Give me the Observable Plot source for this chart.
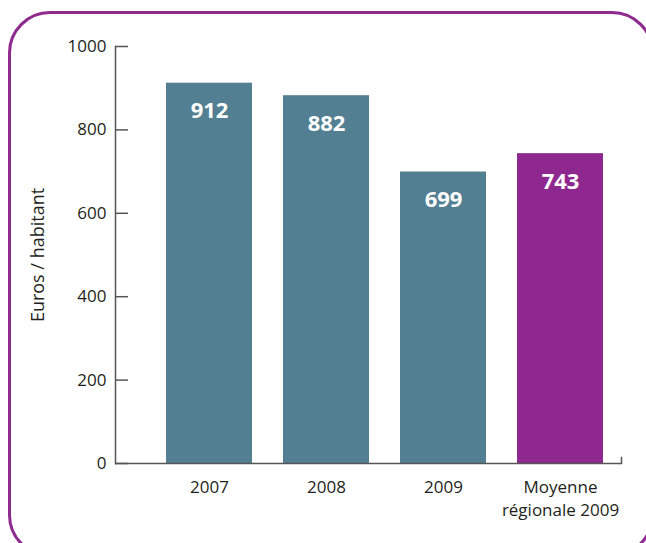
<!DOCTYPE html>
<html>
<head>
<meta charset="utf-8">
<script src="https://cdn.jsdelivr.net/npm/d3@7"></script>
<script src="https://cdn.jsdelivr.net/npm/@observablehq/plot@0.6"></script>
<style>
  html, body { margin: 0; padding: 0; background: #fff; overflow: hidden; }
  #wrap { position: relative; width: 646px; height: 543px; overflow: hidden; }
  #border { position: absolute; left: 8px; top: 11px; width: 640px; height: 540px;
            border: 3px solid #8f2a8f; border-radius: 42px; pointer-events: none; }
</style>
</head>
<body>
<div id="wrap"><div id="border"></div></div>
<script>
const categories = ["2007", "2008", "2009", "Moyenne régionale 2009"];
const values = [912, 882, 699, 743];
const groups = ["commune", "commune", "commune", "région"];
const tickLabels = ["2007", "2008", "2009", "Moyenne\nrégionale 2009"];
const yTicks = [0, 200, 400, 600, 800, 1000];
const yLabel = "Euros / habitant";

const data = categories.map((c, i) => ({category: c, value: values[i], group: groups[i], label: tickLabels[i]}));

const chart = Plot.plot({
  width: 646,
  height: 543,
  marginLeft: 115,
  marginRight: 25,
  marginTop: 46,
  marginBottom: 80,
  style: {fontFamily: "Open Sans, sans-serif", fontSize: "17px", color: "#231f20", background: "transparent"},
  x: {domain: categories, range: [165, 603], paddingInner: 0.267, paddingOuter: 0, label: null},
  y: {domain: [0, 1000], label: null},
  color: {domain: ["commune", "région"], range: ["#527f91", "#8e278e"]},
  marks: [
    Plot.barY(data, {x: "category", y: "value", fill: "group"}),
    Plot.text(data, {x: "category", y: "value", text: d => String(d.value), dy: 28, fill: "white", fontWeight: "bold", fontSize: 22}),
    Plot.axisY({ticks: yTicks, tickSize: 0, tickPadding: 9, label: null, fontSize: 17, tickFormat: d => String(d)}),
    Plot.ruleY(yTicks, {y: d => d, insetRight: 506 - 13, stroke: "#555", strokeWidth: 1.5}),
    Plot.axisX({tickSize: 0, tickPadding: 13, label: null, fontSize: 17, lineHeight: 1.35,
                tickFormat: d => tickLabels[categories.indexOf(d)]}),
    Plot.ruleY([0], {stroke: "#555", strokeWidth: 1.5}),
    Plot.frame({anchor: "left", stroke: "#555", strokeWidth: 1.5}),
    Plot.frame({anchor: "right", stroke: "#555", strokeWidth: 1.5, insetTop: 411}),
    Plot.text([yLabel], {frameAnchor: "left", textAnchor: "middle", text: d => d, rotate: -90, dx: -77, fontSize: 18})
  ]
});
document.getElementById("wrap").prepend(chart);
</script>
</body>
</html>
